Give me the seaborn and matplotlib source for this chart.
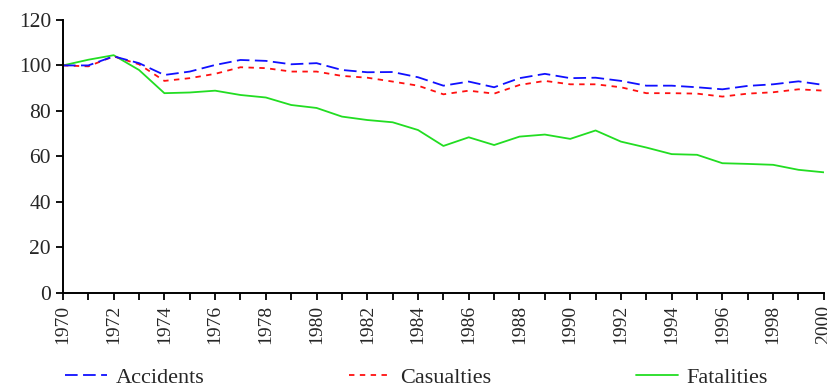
import numpy as np
import pandas as pd
import matplotlib
matplotlib.use("Agg")
import matplotlib.pyplot as plt
from matplotlib.ticker import MultipleLocator
import seaborn as sns

# index values, 1970 = 100
years = list(range(1970, 2001))
accidents = [100, 100, 104, 101, 95.8, 97.3, 100.2, 102.4, 102, 100.5,
             101, 98, 97, 97.1, 94.8, 91.1, 92.9, 90.4, 94.4, 96.3,
             94.4, 94.6, 93.2, 91.1, 91.1, 90.4, 89.5, 91, 91.7, 93, 91.4]
casualties = [100, 99.6, 104, 100.5, 93.2, 94.4, 96.3, 99.2, 98.8, 97.3,
              97.3, 95.4, 94.6, 92.9, 91.1, 87.3, 88.9, 87.6, 91.4, 93.2,
              91.7, 91.7, 90.4, 87.8, 87.8, 87.6, 86.3, 87.6, 88.2, 89.5, 88.9]
fatalities = [100, 102.5, 104.5, 98, 87.8, 88.1, 88.9, 87, 85.9, 82.6,
              81.3, 77.5, 76, 75, 71.6, 64.6, 68.4, 65, 68.7, 69.6,
              67.7, 71.4, 66.5, 63.9, 61, 60.7, 57, 56.7, 56.3, 54.1, 53]

sns.set_style("ticks")
plt.rcParams["font.family"] = ["Liberation Serif", "DejaVu Serif"]

fig = plt.figure(figsize=(8.28, 3.91), dpi=100)
ax = fig.add_axes([0.076, 0.251, 0.919, 0.698])

sns.lineplot(x=years, y=fatalities, ax=ax, color="#22dd22", lw=1.3,
             label="Fatalities")
sns.lineplot(x=years, y=casualties, ax=ax, color="#ff1010", lw=1.3,
             linestyle=(0, (3, 3)), label="Casualties")
sns.lineplot(x=years, y=accidents, ax=ax, color="#1010ff", lw=1.3,
             linestyle=(0, (7, 3)), label="Accidents")

ax.set_xlim(1970, 2000)
ax.set_ylim(0, 120)
ax.yaxis.set_major_locator(MultipleLocator(20))
ax.xaxis.set_major_locator(MultipleLocator(2))
ax.xaxis.set_minor_locator(MultipleLocator(1))
ax.tick_params(axis="both", which="both", direction="out", length=5,
               width=1.3, color="black")
ax.tick_params(axis="x", labelrotation=90, labelsize=14)
ax.tick_params(axis="y", labelsize=15.5)
for s in ["left", "bottom"]:
    ax.spines[s].set_linewidth(1.4)
    ax.spines[s].set_color("black")
sns.despine(ax=ax)
ax.set_xlabel("")
ax.set_ylabel("")

h, l = ax.get_legend_handles_labels()
ax.get_legend().remove()
order = [2, 1, 0]
fig.legend([h[i] for i in order], [l[i] for i in order], loc="center",
           bbox_to_anchor=(0.503, 0.035), ncol=3, frameon=False, fontsize=16,
           handlelength=1.9, handletextpad=0.4, columnspacing=6.5)

fig.savefig("out.png", dpi=100)
